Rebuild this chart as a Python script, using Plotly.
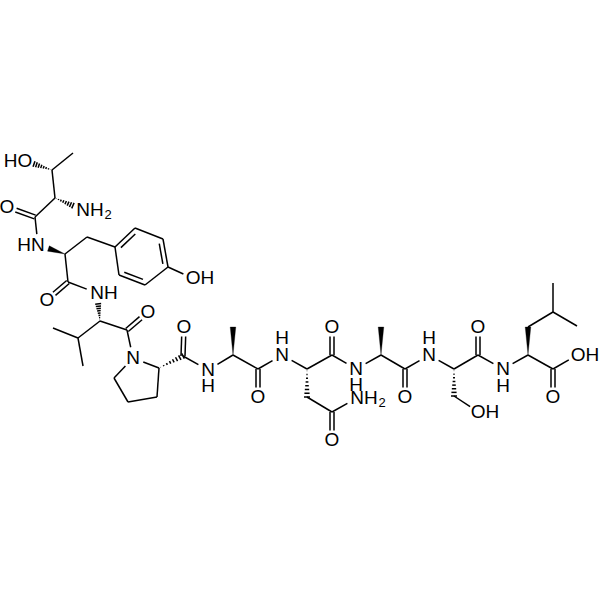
import numpy as np
import plotly.graph_objects as go

# atoms (pixel positions of the drawing)
atom_ids = ["CH3a", "CBt", "Ot", "CAt", "Nt", "Ct", "Oct", "Nty", "CAy", "CBy", "R1", "R2", "R3", "R4", "R5", "R6",
            "Oy", "Cy", "Ocy", "Nv", "CAv", "CBv", "CG1", "CG2", "Cv", "Ocv", "Np", "CAp", "CBp", "CGp", "CDp",
            "Cp", "Ocp", "Na1", "CAa1", "CBa1", "Ca1", "Oca1", "Nn", "CAn", "CBn", "CGn", "Ond", "Nnd", "Cn", "Ocn",
            "Na2", "CAa2", "CBa2", "Ca2", "Oca2", "Ns", "CAs", "CBs", "Os", "Cs", "Ocs",
            "Nl", "CAl", "CBl", "CGl", "CD1", "CD2", "Cl", "Ocl", "Ol"]
atom_x = [73, 52, 25, 55, 83, 35, 7, 38, 65, 87, 115, 135, 163, 168, 145, 119,
          192, 68, 47, 97, 100, 78, 53, 83, 127, 148, 133, 159, 157, 128, 114,
          183, 184, 208, 233, 233, 258, 258, 282, 307, 307, 332, 332, 357, 332, 332,
          356, 381, 381, 405, 405, 429, 454, 454, 478, 478, 478,
          503, 528, 528, 553, 553, 577, 553, 553, 577]
atom_y = [153, 170, 161, 198, 210, 217, 207, 245, 254, 237, 247, 228, 239, 267, 285, 275,
          278, 282, 300, 293, 321, 338, 328, 366, 330, 312, 358, 368, 397, 402, 378,
          356, 327, 370, 355, 327, 369, 397, 355, 369, 397, 412, 440, 398, 355, 327,
          369, 355, 327, 369, 397, 355, 369, 396, 412, 355, 327,
          369, 355, 327, 312, 283, 326, 369, 397, 355]

single_bonds = [("CBt", "CH3a"), ("CBt", "CAt"), ("CAt", "Ct"), ("Ct", "Nty"), ("CAy", "CBy"), ("CBy", "R1"),
                ("R2", "R3"), ("R4", "R5"), ("R6", "R1"), ("R4", "Oy"), ("CAy", "Cy"), ("Cy", "Nv"),
                ("CAv", "CBv"), ("CBv", "CG1"), ("CBv", "CG2"), ("CAv", "Cv"), ("Cv", "Np"), ("Np", "CAp"),
                ("CAp", "CBp"), ("CBp", "CGp"), ("CGp", "CDp"), ("CDp", "Np"), ("Cp", "Na1"), ("Na1", "CAa1"),
                ("CAa1", "Ca1"), ("Ca1", "Nn"), ("Nn", "CAn"), ("CAn", "Cn"), ("CBn", "CGn"), ("CGn", "Nnd"),
                ("Cn", "Na2"), ("Na2", "CAa2"), ("CAa2", "Ca2"), ("Ca2", "Ns"), ("Ns", "CAs"), ("CAs", "Cs"),
                ("CBs", "Os"), ("Cs", "Nl"), ("Nl", "CAl"), ("CBl", "CGl"), ("CGl", "CD1"), ("CGl", "CD2"),
                ("CAl", "Cl"), ("Cl", "Ol")]
carbonyl_bonds = [("Ct", "Oct"), ("Cy", "Ocy"), ("Cv", "Ocv"), ("Cp", "Ocp"), ("Ca1", "Oca1"), ("Cn", "Ocn"),
                  ("CGn", "Ond"), ("Ca2", "Oca2"), ("Cs", "Ocs"), ("Cl", "Ocl")]
ring_double_bonds = [("R1", "R2"), ("R3", "R4"), ("R5", "R6")]
ring_atoms = ["R1", "R2", "R3", "R4", "R5", "R6"]
# narrow end first
wedge_bonds = [("CAy", "Nty"), ("CAa1", "CBa1"), ("CAa2", "CBa2"), ("CAl", "CBl")]
hash_bonds = [("CBt", "Ot"), ("CAt", "Nt"), ("CAv", "Nv"), ("CAp", "Cp"), ("CAn", "CBn"), ("CAs", "CBs")]

label_text = ["HO", "NH", "O", "HN", "OH", "O", "NH", "O", "N", "O", "N", "H", "O", "N", "H", "O",
              "N", "H", "NH", "O", "O", "N", "H", "OH", "O", "N", "H", "OH", "O"]
label_x = [18, 90, 7, 31, 200, 47, 104, 148, 133, 184, 208, 208, 258, 282, 282, 332,
           356, 356, 364, 332, 405, 429, 429, 485, 478, 503, 503, 585, 553]
label_y = [162, 211, 208, 246, 279, 301, 294, 313, 359, 328, 371, 387, 398, 356, 339, 328,
           370, 386, 399, 441, 398, 356, 339, 413, 328, 370, 387, 356, 398]
sub_text = ["2", "2"]
sub_x = [108, 382]
sub_y = [216, 404]

INK = "#000000"
GAP = {"O": 9.5, "N": 11.0}

pos = {name: np.array([x, y], dtype=float) for name, x, y in zip(atom_ids, atom_x, atom_y)}


def is_carbon(name):
    return name[0] in "CR"


def trimmed(a, b):
    p, q = pos[a].copy(), pos[b].copy()
    u = (q - p) / np.linalg.norm(q - p)
    if not is_carbon(a):
        p = p + u * GAP[a[0]]
    if not is_carbon(b):
        q = q - u * GAP[b[0]]
    return p, q, u


xs, ys = [], []


def add_segment(p, q):
    xs.extend([p[0], q[0], None])
    ys.extend([p[1], q[1], None])


for a, b in single_bonds:
    p, q, u = trimmed(a, b)
    add_segment(p, q)

for a, b in carbonyl_bonds:
    p, q, u = trimmed(a, b)
    n = np.array([-u[1], u[0]])
    add_segment(p + n * 2, q + n * 2)
    add_segment(p - n * 2, q - n * 2)

center = np.mean([pos[r] for r in ring_atoms], axis=0)
for a, b in ring_double_bonds:
    p, q, u = trimmed(a, b)
    add_segment(p, q)
    n = np.array([-u[1], u[0]])
    if np.dot(center - p, n) < 0:
        n = -n
    length = np.linalg.norm(q - p)
    add_segment(p + n * 4.5 + u * length * 0.14, q + n * 4.5 - u * length * 0.14)

for a, b in hash_bonds:
    p, q, u = trimmed(a, b)
    n = np.array([-u[1], u[0]])
    for t in np.linspace(0.06, 1.0, 8):
        c = p + (q - p) * t
        add_segment(c - n * 3 * t, c + n * 3 * t)

fig = go.Figure()
fig.add_trace(go.Scatter(x=xs, y=ys, mode="lines", line=dict(color=INK, width=1.5), hoverinfo="skip"))

for a, b in wedge_bonds:
    p, q, u = trimmed(a, b)
    n = np.array([-u[1], u[0]])
    c1, c2 = q + n * 2.8, q - n * 2.8
    fig.add_trace(go.Scatter(x=[p[0], c1[0], c2[0], p[0]], y=[p[1], c1[1], c2[1], p[1]], mode="lines",
                             fill="toself", fillcolor=INK, line=dict(color=INK, width=0.3), hoverinfo="skip"))

fig.add_trace(go.Scatter(x=label_x, y=label_y, mode="text", text=label_text, textposition="middle center",
                         textfont=dict(family="Liberation Sans", size=19, color=INK), hoverinfo="skip"))
fig.add_trace(go.Scatter(x=sub_x, y=sub_y, mode="text", text=sub_text, textposition="middle center",
                         textfont=dict(family="Liberation Sans", size=13, color=INK), hoverinfo="skip"))

fig.update_layout(
    width=600, height=600, margin=dict(l=0, r=0, t=0, b=0),
    paper_bgcolor="white", plot_bgcolor="white", showlegend=False,
    xaxis=dict(range=[0, 600], visible=False, fixedrange=True),
    yaxis=dict(range=[600, 0], visible=False, fixedrange=True),
)

fig.write_html("out.html", config=dict(displayModeBar=False), post_script="document.body.style.margin = '0';")
